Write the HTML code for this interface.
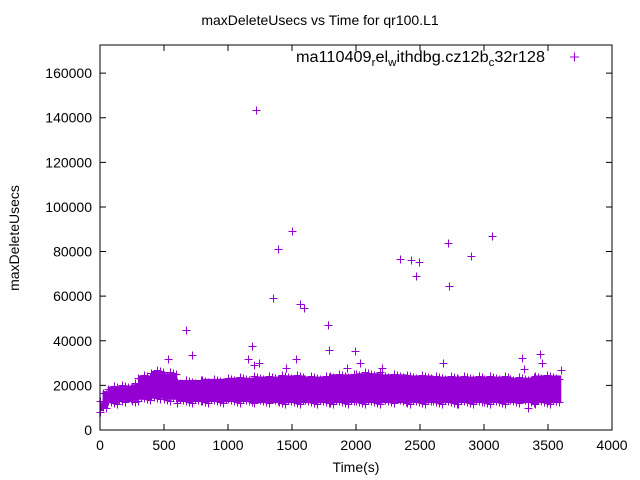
<!DOCTYPE html>
<html><head><meta charset="utf-8"><style>
body{margin:0;background:#fff}
svg{display:block;font-family:"Liberation Sans",sans-serif}
</style></head><body>
<svg id="chart" width="640" height="480" viewBox="0 0 640 480">
<text x="320" y="25" text-anchor="middle" font-size="14">maxDeleteUsecs vs Time for qr100.L1</text>
<text transform="translate(19,238) rotate(-90)" text-anchor="middle" font-size="14">maxDeleteUsecs</text>
<text x="356" y="472" text-anchor="middle" font-size="14">Time(s)</text>
<g id="axes"></g>
<g id="marks"></g>
<rect x="100" y="45" width="512" height="385" fill="none" stroke="#000" stroke-width="1"/>
<text x="296" y="62" font-size="15.5" textLength="249" lengthAdjust="spacingAndGlyphs">ma110409<tspan font-size="11" dy="4">r</tspan><tspan dy="-4">el</tspan><tspan font-size="11" dy="4">w</tspan><tspan dy="-4">ithdbg.cz12b</tspan><tspan font-size="11" dy="4">c</tspan><tspan dy="-4">32r128</tspan></text>
<path d="M570,57h9M574.5,52.5v9" stroke="#9400d3" stroke-width="1"/>
</svg>
<script>
const xTicks=[0,500,1000,1500,2000,2500,3000,3500,4000];
const yTicks=[0,20000,40000,60000,80000,100000,120000,140000,160000];
// band envelope per time bin: start time, low, high
const bandT=[0,20,60,150,250,300,400,500,600,800,1000,1200,1400,1600,1800,2000,2200,2400,2600,2800,3000,3200,3400,3600];
const bandLo=[9000,10000,12500,13000,13500,14000,14500,14000,13000,13000,13000,12500,12500,12500,12500,12500,12500,12500,12500,12500,12500,12500,12500,13000];
const bandHi=[12000,17000,19000,19500,20000,24000,26000,25000,22000,22500,23000,23500,24000,23500,24500,25000,24500,24000,23500,23500,23500,23000,24000,23000];
const outT=[1220,1500,1390,3060,2720,2340,2430,2490,2900,2470,2730,1350,1560,1590,1780,670,1190,1790,720,530,1530,1990,1160,1200,1240,2030,2680,3300,3440,3310,3450,3340,1450,2200,1930,3600];
const outV=[143500,89000,81000,87000,84000,76500,76000,75500,78000,69000,64500,59000,56500,54500,47000,45000,37500,36000,33500,32000,32000,35500,32000,29000,30000,30000,30000,32500,34000,27500,30000,10000,28000,28000,28000,27000];
const X0=100,X1=612,Y0=430,YMAX=172600;
const xs=t=>X0+t/4000*(X1-X0);
const ys=v=>Y0-v/YMAX*(Y0-45);
const NS="http://www.w3.org/2000/svg";
const axes=document.getElementById('axes'),marks=document.getElementById('marks');
function mk(tag,attrs,parent){const e=document.createElementNS(NS,tag);for(const k in attrs)e.setAttribute(k,attrs[k]);parent.appendChild(e);return e;}
xTicks.forEach(t=>{const x=xs(t);
 const l=mk('path',{d:`M${x},430v-6M${x},45v6`,stroke:'#000'},axes);
 
 
 const tx=mk('text',{x:x,y:450,'text-anchor':'middle','font-size':14},axes);tx.textContent=t;
 
 });
yTicks.forEach(v=>{const y=ys(v);
 const l=mk('path',{d:`M100,${y}h6M612,${y}h-6`,stroke:'#000'},axes);
 
 
 const tx=mk('text',{x:92,y:y+5,'text-anchor':'end','font-size':14},axes);tx.textContent=v;
 
 });
let d='';
const r=v=>Math.round(v)+0.5;
const cross=(x,y)=>{x=r(x);y=r(y);d+=`M${x-4},${y}h8M${x},${y-4}v8`;};
let poly='';
for(let i=0;i<bandT.length-1;i++){
 const xa=xs(bandT[i]),xb=xs(bandT[i+1]);
 const yl=ys(bandLo[i]),yh=ys(bandHi[i]);
 const rc=mk('rect',{x:xa,y:yh-1,width:xb-xa+0.5,height:yl-yh+2,fill:'#9400d3'},marks);
 
 
 for(let x=xa;x<xb;x+=3){cross(x,yh+((x*7)%5)-2);cross(x,yl-((x*3)%5)+2);}
}
outT.forEach((t,i)=>cross(xs(t),ys(outV[i])));
const p=mk('path',{d:d,stroke:'#9400d3','stroke-width':1,fill:'none'},marks);


</script>
</body></html>
